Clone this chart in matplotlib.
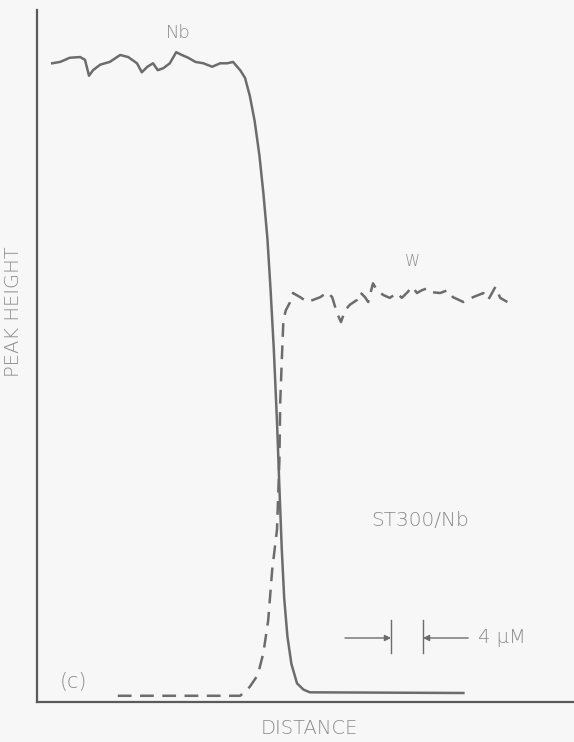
import numpy as np
import matplotlib.pyplot as plt

# Nb trace (solid): distance in um, peak height in arbitrary units (0-100)
nb_x = [1.9, 2.9, 4.1, 5.4, 6.0, 6.5, 7.0, 7.9, 9.1, 10.4, 11.4, 12.5, 13.1, 13.8,
        14.5, 15.1, 15.8, 16.6, 17.4, 18.1, 18.9, 19.8, 20.8, 21.9, 22.9, 23.8,
        24.5, 25.4, 26.0, 26.6, 27.2, 27.8, 28.3, 28.8, 29.2, 29.6, 30.0, 30.3,
        30.6, 30.9, 31.3, 31.8, 32.5, 33.3, 34.1, 53.3]
nb_y = [92.3, 92.5, 93.1, 93.2, 92.8, 90.5, 91.3, 92.1, 92.5, 93.5, 93.2, 92.3,
        91.0, 91.8, 92.3, 91.3, 91.6, 92.3, 93.9, 93.5, 93.1, 92.5, 92.3, 91.8,
        92.3, 92.3, 92.5, 91.3, 90.2, 87.6, 84.0, 79.0, 73.5, 67.0, 59.5, 51.0,
        40.5, 31.0, 22.0, 15.0, 9.5, 5.5, 2.7, 1.8, 1.4, 1.3]

# W trace (dashed)
w_x = [10.1, 25.4, 26.6, 27.6, 28.3, 28.9, 29.4, 30.0, 30.3, 30.4, 30.6, 30.8,
       31.1, 31.6, 32.0, 32.9, 33.8, 34.5, 35.4, 36.3, 36.9, 37.5, 38.0, 38.5,
       39.1, 40.0, 40.4, 41.0, 41.4, 42.0, 42.5, 43.3, 44.1, 45.0, 45.6, 46.3,
       46.9, 47.5, 48.1, 48.8, 49.5, 50.4, 51.3, 52.0, 53.3, 54.5, 55.8, 56.4,
       57.3, 57.9, 58.8]
w_y = [0.9, 0.9, 2.2, 3.9, 7.1, 11.8, 19.1, 24.9, 35.0, 43.2, 49.4, 55.2, 56.6,
       57.7, 59.1, 58.5, 57.8, 58.1, 58.5, 59.2, 58.5, 56.2, 54.9, 56.6, 57.4,
       58.1, 59.2, 58.5, 57.8, 60.5, 59.5, 58.8, 58.4, 59.1, 58.4, 59.2, 60.0,
       59.1, 59.5, 59.8, 59.2, 59.1, 59.5, 58.5, 57.8, 58.5, 59.1, 58.1, 60.0,
       58.4, 57.8]

# 4 um scale bar
bar_start = 44.25
bar_len = 4.0

ink = '#6c6c6c'
txt = '#8a8a8a'
bg = '#f7f7f7'

fig = plt.figure(figsize=(5.74, 7.42), dpi=100, facecolor=bg)
ax = fig.add_axes([37 / 574, 40 / 742, 537 / 574, 692 / 742], facecolor=bg)

ax.plot(nb_x, nb_y, color=ink, lw=1.8, solid_joinstyle='round')
ax.plot(w_x, w_y, color=ink, lw=1.8, linestyle=(0, (5.5, 3.4)))

ax.set_xlim(0, 537 / 8)
ax.set_ylim(0, 100)
ax.set_xticks([])
ax.set_yticks([])
for side in ['top', 'right']:
    ax.spines[side].set_visible(False)
for side in ['left', 'bottom']:
    ax.spines[side].set_color('#5a5a5a')
    ax.spines[side].set_linewidth(1.6)

font = dict(family='DejaVu Sans', color=txt, fontweight='light')

ax.text(17.6, 96.7, 'Nb', ha='center', va='center', fontsize=13, **font)
ax.text(46.9, 63.6, 'W', ha='center', va='center', fontsize=11, **font)
ax.text(47.9, 26.2, 'ST300/Nb', ha='center', va='center', fontsize=14.5, **font)
ax.text(4.6, 2.9, '(c)', ha='center', va='center', fontsize=15, **font)

# scale bar: two ticks 4 um apart with arrows pointing at them
ybar = 9.25
ax.plot([bar_start, bar_start], [7.1, 11.85], color=ink, lw=1.0)
ax.plot([bar_start + bar_len] * 2, [7.1, 11.85], color=ink, lw=1.0)
ax.annotate('', xy=(bar_start, ybar), xytext=(38.5, ybar),
            arrowprops=dict(arrowstyle='-|>', color=ink, lw=1.0,
                            mutation_scale=9, shrinkA=0, shrinkB=0))
ax.annotate('', xy=(bar_start + bar_len, ybar), xytext=(53.9, ybar),
            arrowprops=dict(arrowstyle='-|>', color=ink, lw=1.0,
                            mutation_scale=9, shrinkA=0, shrinkB=0))
ax.text(55.1, ybar, '4 \u03bcM', ha='left', va='center', fontsize=14, **font)

ax.set_xlabel('DISTANCE', fontsize=14, **font)
ax.set_ylabel('PEAK HEIGHT', fontsize=14, **font)
ax.xaxis.set_label_coords(0.508, -0.025)
ax.yaxis.set_label_coords(-0.026, 0.564)

fig.savefig('out.png', dpi=100, facecolor=bg)
